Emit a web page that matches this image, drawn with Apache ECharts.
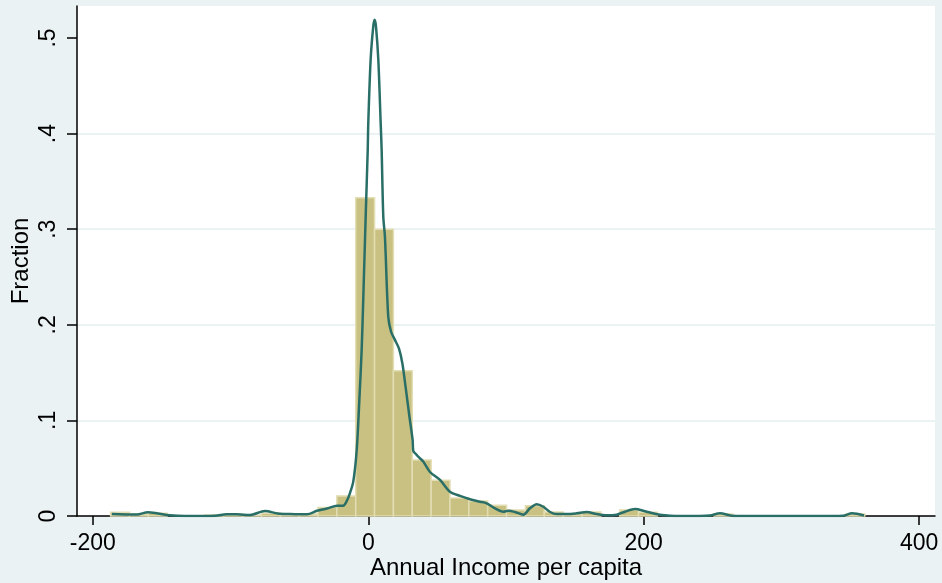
<!DOCTYPE html>
<html>
<head>
<meta charset="utf-8">
<script src="https://cdn.jsdelivr.net/npm/echarts@6/dist/echarts.min.js"></script>
<style>
html, body { margin: 0; padding: 0; background: #eaf2f3; }
#chart { width: 942px; height: 583px; }
</style>
</head>
<body>
<div id="chart"></div>
<script>
// histogram: 40 bins starting at binStart, each binWidth wide
const binStart = -187.1
const binWidth = 13.69
const binHeights = [
  0.004, 0.002, 0.003, 0, 0, 0.001, 0.002, 0.001, 0.003, 0.001,
  0.002, 0.009, 0.021, 0.333, 0.300, 0.152, 0.0586, 0.0373, 0.0188, 0.0157,
  0.0112, 0.0063, 0.0108, 0.0042, 0.0024, 0.0042, 0, 0.0063, 0.004, 0,
  0, 0, 0.002, 0, 0, 0, 0, 0, 0, 0.002
]

// kernel density curve
const kdeX = [
  -186.2, -176.6, -168, -160, -152.7, -144, -133, -122, -111, -102.7,
  -95.4, -86, -75, -65.6, -56.9, -49.6, -44.5, -37.2, -30, -22.7,
  -18.2, -15.5, -13.3, -10.9, -8.4, -6.5, -4.8, -3.6, -1.9, -0.4,
  0, 1.7, 3.6, 4.6, 5.6, 7.3, 9.0, 9.7, 10.9, 12.1,
  14.5, 16.5, 19.4, 22.3, 24.7, 27.1, 29.6, 32.2, 32.7, 35.1,
  36.3, 39.9, 44.8, 52.1, 59.3, 66.6, 73.9, 81.1, 86.0, 92.0,
  98.0, 101.7, 106.5, 112.6, 117.4, 122.3, 127.1, 132.0, 136.8, 144.1,
  151.3, 158.6, 165.9, 173.1, 180.4, 186.4, 193.7, 201.0, 207.0, 213.1,
  219.1, 226.4, 240.9, 248.1, 255.4, 263.9, 273.6, 313.5, 338, 344.7,
  351.3, 360.0
]
const kdeY = [
  0.002, 0.0016, 0.0015, 0.0039, 0.0026, 0.0008, 0, 0, 0.0003, 0.0018,
  0.0018, 0.001, 0.0052, 0.0026, 0.002, 0.0018, 0.0018, 0.0055, 0.0078, 0.0108,
  0.0108, 0.016, 0.024, 0.036, 0.069, 0.121, 0.174, 0.229, 0.313, 0.383,
  0.411, 0.477, 0.512, 0.519, 0.512, 0.477, 0.411, 0.383, 0.313, 0.292,
  0.2085, 0.193, 0.184, 0.175, 0.16, 0.135, 0.107, 0.0795, 0.068, 0.064,
  0.062, 0.057, 0.046, 0.0377, 0.0254, 0.021, 0.0175, 0.015, 0.0133, 0.008,
  0.0045, 0.0055, 0.0042, 0.0014, 0.008, 0.0122, 0.0097, 0.0042, 0.002, 0.002,
  0.0028, 0.0042, 0.002, 0.0007, 0.0014, 0.0045, 0.0073, 0.005, 0.0028, 0.001,
  0.0003, 0, 0, 0.0005, 0.0028, 0.0003, 0, 0, 0, 0.0003,
  0.0028, 0.0005
]

const xTicks = [-200, 0, 200, 400]
const yTicks = [0, 0.1, 0.2, 0.3, 0.4, 0.5]

const bins = binHeights.map((h, i) => [binStart + i * binWidth, binStart + (i + 1) * binWidth, h])
const kde = kdeX.map((x, i) => [x, kdeY[i]])

const chart = echarts.init(document.getElementById('chart'))

const font = 'Liberation Sans, Arial, Helvetica, sans-serif'

chart.setOption({
  backgroundColor: '#eaf2f3',
  animation: false,
  grid: {
    left: 77,
    right: 7,
    top: 6,
    bottom: 67,
    outerBoundsMode: 'none',
    containLabel: false,
    show: true,
    backgroundColor: '#ffffff',
    borderWidth: 0
  },
  xAxis: {
    type: 'value',
    min: -211.5,
    max: 411.5,
    name: 'Annual Income per capita',
    nameLocation: 'middle',
    nameGap: 40,
    nameMoveOverlap: false,
    nameTextStyle: { fontFamily: font, fontSize: 24, color: '#000' },
    axisLine: { onZero: false, lineStyle: { color: '#000', width: 1.5 } },
    axisTick: { customValues: xTicks, length: 9, lineStyle: { color: '#000', width: 1.5 } },
    axisLabel: { customValues: xTicks, fontFamily: font, fontSize: 23, color: '#000', margin: 16 },
    splitLine: { show: false }
  },
  yAxis: {
    type: 'value',
    min: 0,
    max: 0.5335,
    interval: 0.1,
    name: 'Fraction',
    nameLocation: 'middle',
    nameGap: 44,
    nameMoveOverlap: false,
    nameTextStyle: { fontFamily: font, fontSize: 24, color: '#000' },
    axisLine: { show: true, onZero: false, lineStyle: { color: '#000', width: 1.5 } },
    axisTick: { show: true, customValues: yTicks, length: 10, lineStyle: { color: '#000', width: 1.5 } },
    axisLabel: {
      customValues: yTicks,
      rotate: 90,
      fontFamily: font,
      fontSize: 23,
      color: '#000',
      margin: 17,
      formatter: v => (v === 0 ? '0' : String(Math.round(v * 10) / 10).replace(/^0/, ''))
    },
    splitLine: { show: true, showMinLine: false, showMaxLine: false, lineStyle: { color: '#eaf2f3', width: 2 } }
  },
  series: [
    {
      type: 'custom',
      data: bins,
      encode: { x: [0, 1], y: 2 },
      renderItem: function (params, api) {
        const h = api.value(2)
        if (!h) return null
        const p0 = api.coord([api.value(0), h])
        const p1 = api.coord([api.value(1), 0])
        return {
          type: 'rect',
          shape: { x: p0[0], y: p0[1], width: p1[0] - p0[0], height: p1[1] - p0[1] },
          style: { fill: '#c9c182', stroke: '#e2ddb3', lineWidth: 1.5 }
        }
      },
      z: 2
    },
    {
      type: 'line',
      data: kde,
      showSymbol: false,
      smooth: 0.3,
      lineStyle: { color: '#2a6f67', width: 2.5 },
      z: 3
    }
  ]
})
</script>
</body>
</html>
